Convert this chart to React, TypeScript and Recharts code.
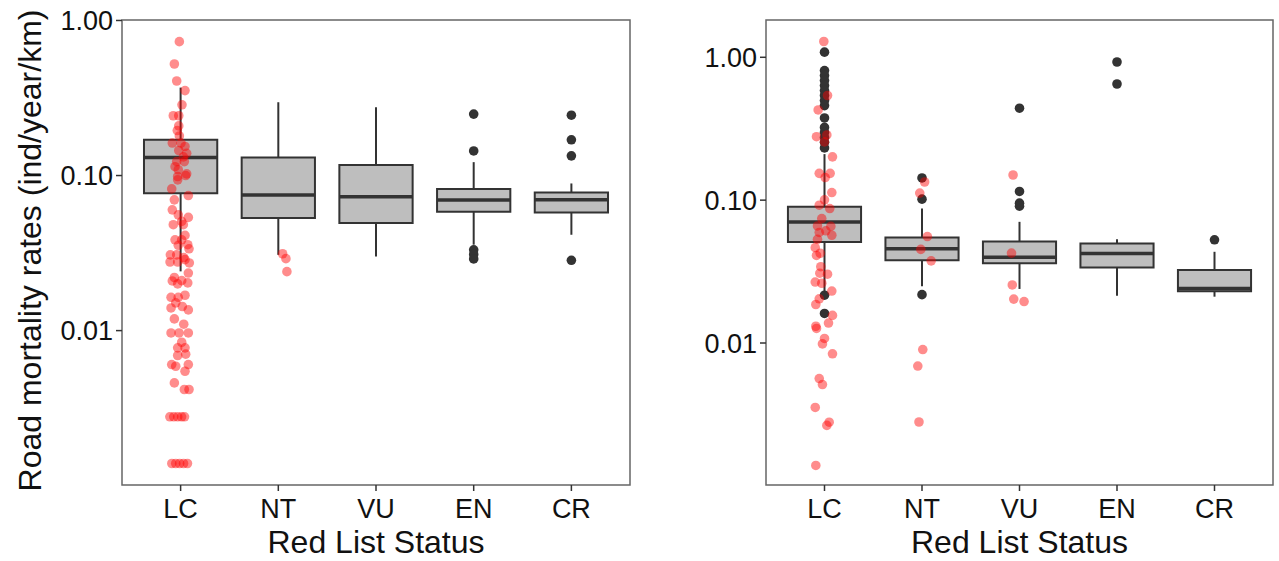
import React from "react";
import { ComposedChart, XAxis, YAxis, Scatter, ReferenceArea, ReferenceLine } from "recharts";

const categories = ["LC", "NT", "VU", "EN", "CR"];
const yTicks = [0.01, 0.1, 1];

// box stats per status: [lower whisker, q1, median, q3, upper whisker]
const leftBoxes = [
  [0.0241, 0.077, 0.1306, 0.17, 0.369],
  [0.0308, 0.0532, 0.075, 0.1306, 0.297],
  [0.03, 0.0494, 0.073, 0.117, 0.276],
  [0.0358, 0.0584, 0.0695, 0.082, 0.122],
  [0.0415, 0.0578, 0.0698, 0.0778, 0.0889],
];
const rightBoxes = [
  [0.0225, 0.051, 0.0704, 0.09, 0.21],
  [0.025, 0.038, 0.0457, 0.0548, 0.0874],
  [0.0239, 0.0362, 0.0399, 0.0514, 0.0705],
  [0.0214, 0.0338, 0.0424, 0.0497, 0.0533],
  [0.0211, 0.023, 0.0241, 0.0324, 0.0435],
];

// boxplot outliers (black dots) per status
const leftOutliers = [[], [], [], [0.249, 0.144, 0.0332, 0.031, 0.029], [0.245, 0.17, 0.134, 0.0284]];
const rightOutliers = [
  [1.086, 0.807, 0.745, 0.687, 0.634, 0.585, 0.54, 0.498, 0.459, 0.376, 0.323, 0.298, 0.275, 0.254, 0.232, 0.0216, 0.0161],
  [0.143, 0.1016, 0.0218],
  [0.44, 0.115, 0.0953, 0.0908],
  [0.927, 0.65],
  [0.0528],
];

// jittered red points: [offset from category centre, value]
const leftLC = [
  [-0.013, 0.73], [-0.064, 0.524], [-0.04, 0.407], [0.045, 0.353], [0.014, 0.286], [-0.075, 0.243],
  [-0.019, 0.243], [-0.019, 0.209], [-0.034, 0.195], [-0.013, 0.18], [-0.085, 0.162], [0.004, 0.162],
  [0.045, 0.154], [-0.019, 0.145], [0.062, 0.139], [0.028, 0.132], [-0.04, 0.123], [0.038, 0.123],
  [-0.057, 0.114], [-0.024, 0.109], [0.062, 0.1025], [-0.03, 0.0986], [-0.03, 0.0938], [0.052, 0.1],
  [-0.091, 0.082], [-0.064, 0.0697], [0.079, 0.0743], [-0.085, 0.0601], [-0.024, 0.0558], [0.079, 0.0537],
  [0.011, 0.0506], [-0.075, 0.0482], [0.028, 0.0482], [0.045, 0.0411], [-0.057, 0.0385], [0.011, 0.0385],
  [0.073, 0.0358], [-0.024, 0.0355], [0.086, 0.0337], [-0.105, 0.0308], [-0.04, 0.0308], [0.032, 0.0296],
  [-0.108, 0.0277], [-0.03, 0.0277], [0.089, 0.0273], [0.045, 0.0287], [0.079, 0.0235], [-0.064, 0.022],
  [0.011, 0.021], [0.073, 0.0203], [-0.085, 0.0209], [-0.03, 0.02], [-0.098, 0.0164], [-0.024, 0.0164],
  [0.045, 0.0169], [-0.05, 0.0151], [-0.098, 0.014], [0.017, 0.0143], [0.079, 0.0136], [-0.064, 0.0119],
  [0.032, 0.011], [-0.098, 0.00966], [-0.016, 0.00966], [0.079, 0.00966], [0.011, 0.00841], [-0.03, 0.00774],
  [0.045, 0.00774], [-0.03, 0.00691], [0.052, 0.00705], [-0.091, 0.00604], [-0.05, 0.00589], [0.079, 0.00604],
  [0.045, 0.00547], [-0.064, 0.0046], [0.038, 0.00417], [0.086, 0.00417],
  [-0.11, 0.00278], [-0.07, 0.00278], [-0.03, 0.00278], [0.01, 0.00278], [0.04, 0.00278],
  [-0.09, 0.00139], [-0.05, 0.00139], [-0.01, 0.00139], [0.03, 0.00139], [0.07, 0.00139],
];
const leftNT = [[0.044, 0.0313], [0.078, 0.0291], [0.088, 0.024]];

const rightLC = [
  [-0.007, 1.29], [0.031, 0.54], [-0.065, 0.428], [-0.082, 0.278], [0.024, 0.286], [0, 0.256],
  [0.082, 0.201], [-0.054, 0.154], [0.058, 0.154], [0.007, 0.144], [0.075, 0.113], [0, 0.1005],
  [-0.054, 0.0922], [0.054, 0.0873], [-0.028, 0.0743], [-0.072, 0.066], [0.065, 0.0655], [0.013, 0.061],
  [-0.054, 0.0594], [0.075, 0.0568], [-0.072, 0.0532], [-0.095, 0.0465], [-0.044, 0.0425], [-0.082, 0.041],
  [-0.038, 0.0342], [-0.048, 0.0308], [0.031, 0.0303], [-0.095, 0.0267], [-0.028, 0.0262], [0.075, 0.0231],
  [-0.054, 0.0204], [-0.089, 0.0186], [0.082, 0.0156], [0.041, 0.0138], [-0.089, 0.0131], [-0.082, 0.01264],
  [0, 0.01076], [-0.021, 0.00986], [0.082, 0.0084], [-0.054, 0.00564], [-0.021, 0.00512], [-0.095, 0.00354],
  [0.048, 0.00279], [0.024, 0.00265], [-0.089, 0.00139],
];
const rightNT = [[-0.023, 0.112], [0.027, 0.134], [0.055, 0.0556], [-0.012, 0.0452], [0.094, 0.0376], [0.008, 0.009], [-0.043, 0.0069], [-0.031, 0.0028]];
const rightVU = [[-0.066, 0.15], [-0.082, 0.0426], [-0.074, 0.0255], [-0.059, 0.0203], [0.047, 0.0195]];

const FONT = "'Liberation Sans', Arial, sans-serif";
const HALF = 0.375;

const RedDot = (p: any) => <circle cx={p.cx} cy={p.cy} r={4.8} fill="#ff0000" fillOpacity={0.45} />;
const BlackDot = (p: any) => <circle cx={p.cx} cy={p.cy} r={4.8} fill="#333333" />;

const XTitle = (props: any) => {
  const vb = props.viewBox;
  return (
    <text x={vb.x + vb.width / 2} y={vb.y + 57} textAnchor="middle" dominantBaseline="central" fontSize={32} fontFamily={FONT} fill="#111">
      Red List Status
    </text>
  );
};

const YTitle = (props: any) => {
  const vb = props.viewBox;
  const cx = vb.x + 30;
  const cy = vb.y + vb.height / 2 - 2;
  return (
    <text x={cx} y={cy} transform={`rotate(-90 ${cx} ${cy})`} textAnchor="middle" dominantBaseline="central" fontSize={32} fontFamily={FONT} fill="#111">
      Road mortality rates (ind/year/km)
    </text>
  );
};

function Panel(props: any) {
  const { width, yAxisWidth, marginRight, yDomain, boxes, outliers, red, showTitle } = props;
  const outlierData = outliers.flatMap((vals: number[], i: number) => vals.map((v) => ({ x: i + 1, y: v })));
  const redData = red.flatMap((pts: number[][], i: number) => pts.map(([dx, v]) => ({ x: i + 1 + dx, y: v })));
  return (
    <ComposedChart width={width} height={561} margin={{ top: 20, right: marginRight, bottom: 0, left: 0 }}>
      <XAxis
        type="number"
        dataKey="x"
        domain={[0.4, 5.6]}
        allowDataOverflow
        ticks={[1, 2, 3, 4, 5]}
        interval={0}
        tickFormatter={(v: number) => categories[Math.round(v) - 1]}
        axisLine={false}
        tickLine={{ stroke: "#333", strokeWidth: 1.5 }}
        tickSize={6}
        tickMargin={8}
        tick={{ fontSize: 27, fill: "#111", fontFamily: FONT }}
        height={76}
        label={<XTitle />}
      />
      <YAxis
        type="number"
        dataKey="y"
        scale="log"
        domain={yDomain}
        allowDataOverflow
        ticks={yTicks}
        interval={0}
        tickFormatter={(v: number) => v.toFixed(2)}
        axisLine={false}
        tickLine={{ stroke: "#333", strokeWidth: 1.5 }}
        tickSize={6}
        tickMargin={3}
        tick={{ fontSize: 27, fill: "#111", fontFamily: FONT }}
        width={yAxisWidth}
        label={showTitle ? <YTitle /> : undefined}
      />
      <ReferenceArea x1={0.4} x2={5.6} y1={yDomain[0]} y2={yDomain[1]} fill="none" stroke="#666" strokeWidth={1.5} ifOverflow="visible" />
      {boxes.map((b: number[], i: number) => (
        <ReferenceLine key={`wl${i}`} segment={[{ x: i + 1, y: b[0] }, { x: i + 1, y: b[1] }]} stroke="#333" strokeWidth={2} />
      ))}
      {boxes.map((b: number[], i: number) => (
        <ReferenceLine key={`wh${i}`} segment={[{ x: i + 1, y: b[3] }, { x: i + 1, y: b[4] }]} stroke="#333" strokeWidth={2} />
      ))}
      {boxes.map((b: number[], i: number) => (
        <ReferenceArea key={`b${i}`} x1={i + 1 - HALF} x2={i + 1 + HALF} y1={b[1]} y2={b[3]} fill="#bebebe" fillOpacity={1} stroke="#333" strokeWidth={2} />
      ))}
      {boxes.map((b: number[], i: number) => (
        <ReferenceLine key={`m${i}`} segment={[{ x: i + 1 - HALF, y: b[2] }, { x: i + 1 + HALF, y: b[2] }]} stroke="#333" strokeWidth={3.5} />
      ))}
      <Scatter data={outlierData} shape={BlackDot} isAnimationActive={false} />
      <Scatter data={redData} shape={RedDot} isAnimationActive={false} />
    </ComposedChart>
  );
}

export default function App() {
  return (
    <div style={{ position: "absolute", left: 0, top: 0, width: 1279, height: 561, background: "#fff" }}>
      <div style={{ position: "absolute", left: 0, top: 0 }}>
        <Panel
          width={640}
          yAxisWidth={122}
          marginRight={10}
          yDomain={[0.00101, 1.007]}
          boxes={leftBoxes}
          outliers={leftOutliers}
          red={[leftLC, leftNT, [], [], []]}
          showTitle
        />
      </div>
      <div style={{ position: "absolute", left: 640, top: 0 }}>
        <Panel
          width={639}
          yAxisWidth={126}
          marginRight={6}
          yDomain={[0.001014, 1.824]}
          boxes={rightBoxes}
          outliers={rightOutliers}
          red={[rightLC, rightNT, rightVU, [], []]}
        />
      </div>
    </div>
  );
}
